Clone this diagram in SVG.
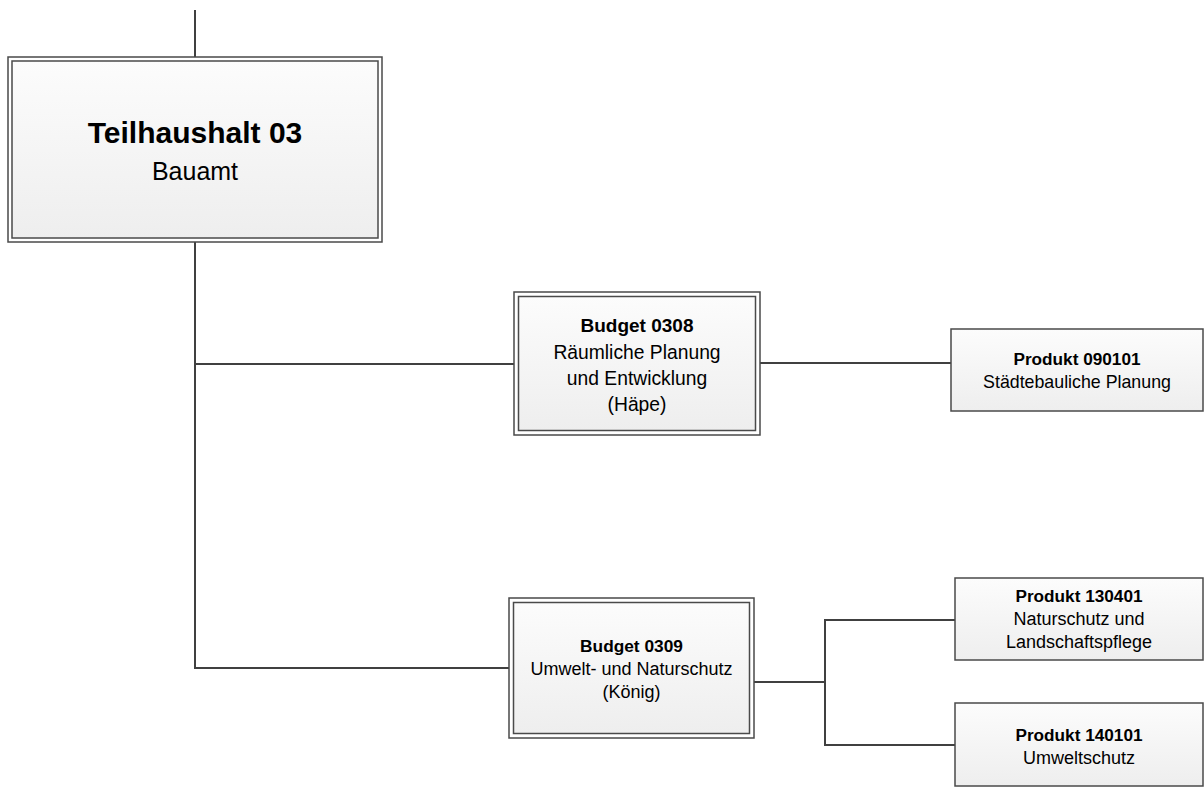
<svg xmlns="http://www.w3.org/2000/svg" width="1204" height="787" viewBox="0 0 1204 787">
<style>
.c{fill:none;stroke:#404040;stroke-width:2}
.o{fill:#ffffff;stroke:#4a4a4a;stroke-width:1.5}
.i{fill:url(#g);stroke:#4a4a4a;stroke-width:1.5}
.p{fill:url(#g);stroke:#4a4a4a;stroke-width:1.5}
text{font-family:"Liberation Sans",Arial,sans-serif;fill:#000;text-anchor:middle}
.b{font-weight:bold}
</style>
<defs>
<linearGradient id="g" x1="0" y1="0" x2="0" y2="1">
<stop offset="0" stop-color="#fcfcfc"/>
<stop offset="1" stop-color="#eeeeee"/>
</linearGradient>
</defs>
<rect width="1204" height="787" fill="#ffffff"/>
<g id="connectors">
<path class="c" d="M195,10 V57"/>
<path class="c" d="M195,242 V668 H509"/>
<path class="c" d="M195,364 H514"/>
<path class="c" d="M760,363 H951"/>
<path class="c" d="M754,682 H825"/>
<path class="c" d="M955,620 H825 V745 H955"/>
</g>
<g id="teilhaushalt03">
<rect class="o" x="8" y="57" width="374" height="185"/>
<rect class="i" x="12" y="61" width="366" height="177"/>
<text class="b" x="195" y="143" font-size="30">Teilhaushalt 03</text>
<text x="195" y="180" font-size="25">Bauamt</text>
</g>
<g id="budget0308">
<rect class="o" x="514" y="292" width="246" height="143"/>
<rect class="i" x="518.5" y="296.5" width="237" height="134"/>
<text class="b" x="637" y="332" font-size="19">Budget 0308</text>
<text x="637" y="359" font-size="19.3">Räumliche Planung</text>
<text x="637" y="385" font-size="19.3">und Entwicklung</text>
<text x="637" y="411" font-size="19.3">(Häpe)</text>
</g>
<g id="budget0309">
<rect class="o" x="509" y="598" width="245" height="140"/>
<rect class="i" x="513.5" y="602.5" width="236" height="131"/>
<text class="b" x="631.5" y="652" font-size="17.3">Budget 0309</text>
<text x="631.5" y="675" font-size="18">Umwelt- und Naturschutz</text>
<text x="631.5" y="698" font-size="18">(König)</text>
</g>
<g id="produkt090101">
<rect class="p" x="951" y="329" width="252" height="82"/>
<text class="b" x="1077" y="365" font-size="17.2">Produkt 090101</text>
<text x="1077" y="388" font-size="17.8">Städtebauliche Planung</text>
</g>
<g id="produkt130401">
<rect class="p" x="955" y="578" width="248" height="82"/>
<text class="b" x="1079" y="602" font-size="17.2">Produkt 130401</text>
<text x="1079" y="625" font-size="18">Naturschutz und</text>
<text x="1079" y="648" font-size="18">Landschaftspflege</text>
</g>
<g id="produkt140101">
<rect class="p" x="955" y="703" width="248" height="83"/>
<text class="b" x="1079" y="741" font-size="17.2">Produkt 140101</text>
<text x="1079" y="764" font-size="18">Umweltschutz</text>
</g>
</svg>
